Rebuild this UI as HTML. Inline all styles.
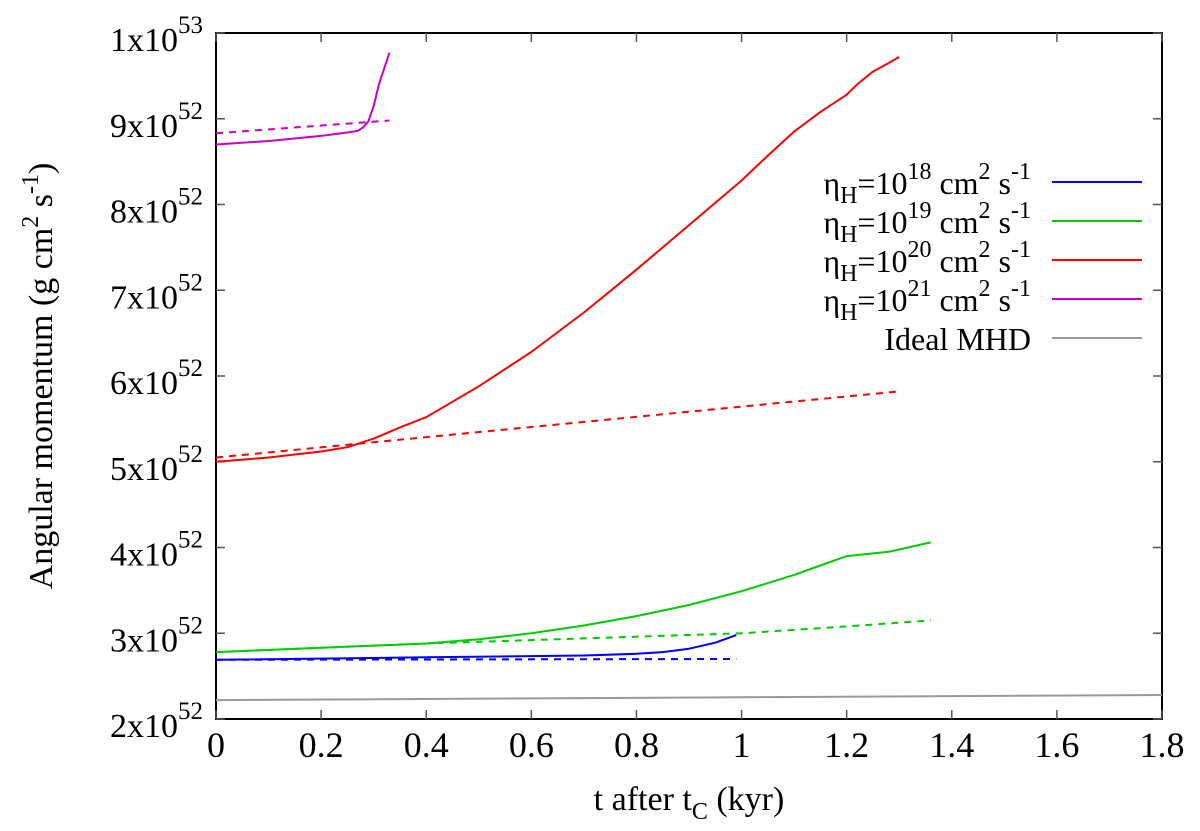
<!DOCTYPE html>
<html><head><meta charset="utf-8"><style>
body{margin:0;background:#fff}
svg text{font-family:"Liberation Serif",serif;fill:#000}
</style></head><body>
<svg id="chart" width="1200" height="826" xmlns="http://www.w3.org/2000/svg">
<g id="axes"></g>
<g id="series"></g>
<g id="legend"></g>
<text x="689" y="810" font-size="34" text-anchor="middle">t after t<tspan font-size="24" dy="9">C</tspan><tspan dy="-9"> (kyr)</tspan></text>
<text transform="translate(52,376) rotate(-90)" font-size="34" text-anchor="middle">Angular momentum (g cm<tspan font-size="24" dy="-14">2</tspan><tspan dy="14"> s</tspan><tspan font-size="24" dy="-14">-1</tspan><tspan dy="14">)</tspan></text>
</svg>
<script>
const xTicks=[0,0.2,0.4,0.6,0.8,1,1.2,1.4,1.6,1.8];
const xTickLabels=["0","0.2","0.4","0.6","0.8","1","1.2","1.4","1.6","1.8"];
const yTicks=[2,3,4,5,6,7,8,9,10];
const yTickMant=["2","3","4","5","6","7","8","9","1"];
const yTickExp=["52","52","52","52","52","52","52","52","53"];
const magentaT=[0,0.1,0.2,0.25,0.27,0.28,0.29,0.3,0.31,0.33];
const magentaY=[8.70,8.74,8.80,8.84,8.86,8.90,8.97,9.15,9.4,9.77];
const magentaDT=[0,0.33];
const magentaDY=[8.83,8.98];
const redT=[0,0.1,0.2,0.25,0.3,0.35,0.4,0.5,0.6,0.7,0.8,0.9,1.0,1.05,1.1,1.15,1.2,1.22,1.25,1.28,1.3];
const redY=[5.0,5.05,5.12,5.17,5.27,5.4,5.52,5.88,6.28,6.74,7.24,7.76,8.28,8.57,8.85,9.08,9.28,9.4,9.55,9.65,9.72];
const redDT=[0,1.3];
const redDY=[5.05,5.82];
const greenT=[0,0.2,0.4,0.5,0.6,0.7,0.8,0.9,1.0,1.1,1.15,1.2,1.28,1.36];
const greenY=[2.78,2.83,2.88,2.93,3.0,3.09,3.2,3.33,3.49,3.68,3.79,3.9,3.95,4.06];
const greenDT=[0,0.4,1.0,1.2,1.36];
const greenDY=[2.78,2.88,3.0,3.08,3.15];
const blueT=[0,0.4,0.7,0.8,0.85,0.9,0.95,0.99];
const blueY=[2.69,2.72,2.74,2.76,2.78,2.82,2.89,2.98];
const blueDT=[0,0.99];
const blueDY=[2.69,2.70];
const grayT=[0,1.8];
const grayY=[2.22,2.28];
const legendLabels=["18","19","20","21"];
const legendColors=["#0000ff","#00cc00","#ff0000","#cc00cc","#999999"];

const L=216,R=1162,T=33,B=719;
const xs=t=>L+t/1.8*(R-L);
const ys=v=>B-(v-2)/8*(B-T);
const NS="http://www.w3.org/2000/svg";
function mk(tag,parent,attrs){const e=document.createElementNS(NS,tag);for(const k in attrs)e.setAttribute(k,attrs[k]);parent.appendChild(e);return e;}
const axes=document.getElementById('axes');
const frame=mk('rect',axes,{x:L,y:T,width:R-L,height:B-T,fill:'none',stroke:'#000','stroke-width':2});


xTicks.forEach((t,i)=>{
  const x=xs(t);
  const a=mk('line',axes,{x1:x,x2:x,y1:B,y2:B-9,stroke:'#555','stroke-width':1.5});
  
  
  const b=mk('line',axes,{x1:x,x2:x,y1:T,y2:T+9,stroke:'#555','stroke-width':1.5});
  
  
  const tx=mk('text',axes,{x:x,y:B+38,'font-size':36,'text-anchor':'middle'});
  tx.textContent=xTickLabels[i];
  
  
});
yTicks.forEach((v,i)=>{
  const y=ys(v);
  const a=mk('line',axes,{x1:L,x2:L+9,y1:y,y2:y,stroke:'#555','stroke-width':1.5});
  
  
  const b=mk('line',axes,{x1:R,x2:R-9,y1:y,y2:y,stroke:'#555','stroke-width':1.5});
  
  
  const tx=mk('text',axes,{x:203,y:y+18,'font-size':34,'text-anchor':'end'});
  tx.innerHTML=yTickMant[i]+'x10<tspan font-size="25" dy="-18">'+yTickExp[i]+'</tspan>';
  
  
});
const sg=document.getElementById('series');
function line(T_,Y_,color,dash,name){
  const d=T_.map((t,i)=>(i?'L':'M')+xs(t).toFixed(1)+','+ys(Y_[i]).toFixed(1)).join('');
  const p=mk('path',sg,{d:d,fill:'none',stroke:color,'stroke-width':2,'stroke-linejoin':'round'});
  if(dash)p.setAttribute('stroke-dasharray','7,6');
  
  
}
line(grayT,grayY,'#999999',false,'ideal-mhd-line');
line(blueT,blueY,'#0000ff',false,'eta18-line');
line(blueDT,blueDY,'#0000ff',true,'eta18-dashed-line');
line(greenT,greenY,'#00cc00',false,'eta19-line');
line(greenDT,greenDY,'#00cc00',true,'eta19-dashed-line');
line(redT,redY,'#ff0000',false,'eta20-line');
line(redDT,redDY,'#ff0000',true,'eta20-dashed-line');
line(magentaT,magentaY,'#cc00cc',false,'eta21-line');
line(magentaDT,magentaDY,'#cc00cc',true,'eta21-dashed-line');
const lg=document.getElementById('legend');
for(let i=0;i<5;i++){
  const y=182+i*39;
  const tx=mk('text',lg,{x:1031,y:y+12,'font-size':32,'text-anchor':'end'});
  if(i<4) tx.innerHTML='η<tspan font-size="24" dy="9">H</tspan><tspan dy="-9">=10</tspan><tspan font-size="24" dy="-15">'+legendLabels[i]+'</tspan><tspan dy="15"> cm</tspan><tspan font-size="24" dy="-15">2</tspan><tspan dy="15"> s</tspan><tspan font-size="24" dy="-15">-1</tspan>';
  else tx.textContent='Ideal MHD';
  
  
  const ln=mk('line',lg,{x1:1052,x2:1142,y1:y,y2:y,stroke:legendColors[i],'stroke-width':2});
  
  
}
</script>
</body></html>
